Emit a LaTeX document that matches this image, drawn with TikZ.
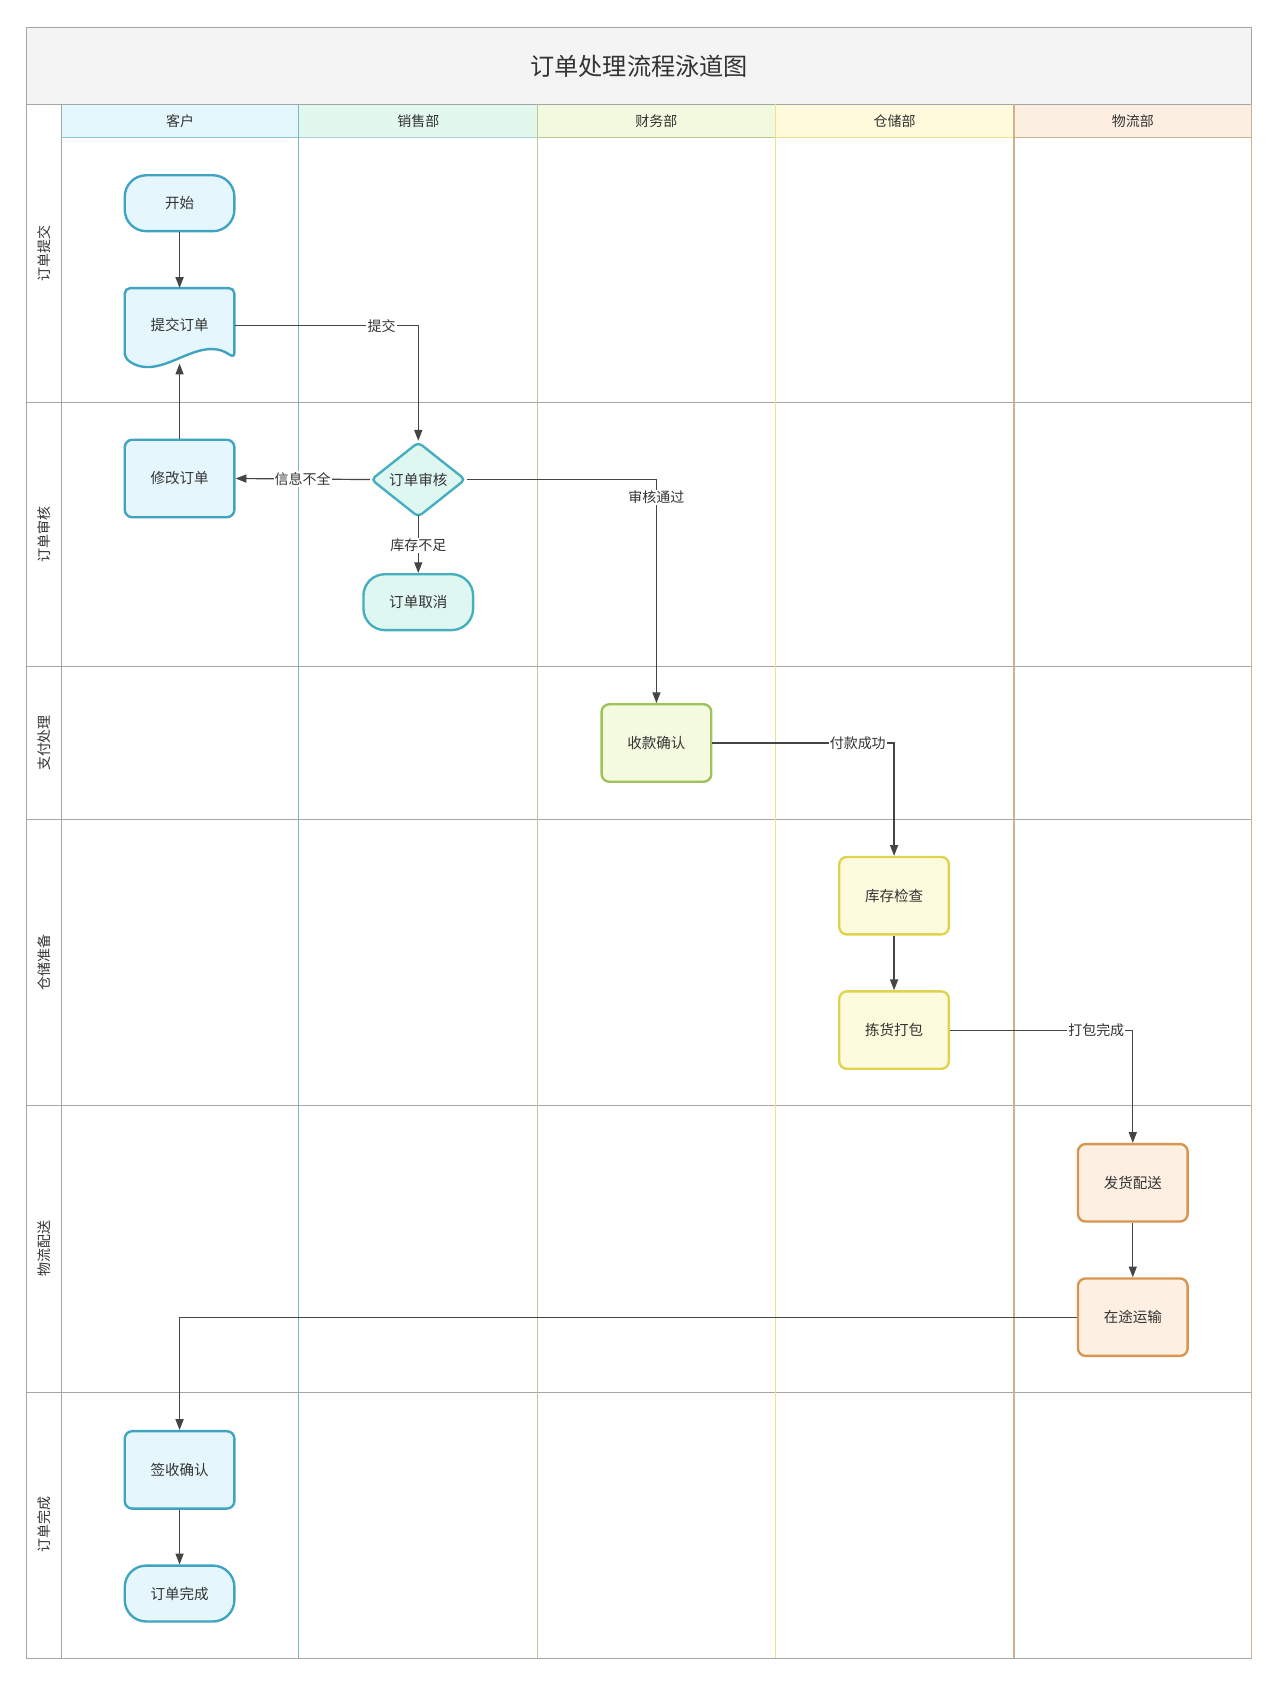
\documentclass[tikz,border=0pt]{standalone}
\usepackage{fontspec}
\setmainfont{Noto Sans CJK SC}
\usetikzlibrary{shapes.geometric,arrows.meta}
\definecolor{txt}{HTML}{333333}
\definecolor{gridc}{HTML}{A6A6A6}
\definecolor{titlebg}{HTML}{F4F4F4}
\definecolor{arrowc}{HTML}{454545}
\definecolor{hA}{HTML}{E4F7FC}
\definecolor{hB}{HTML}{E2F8EF}
\definecolor{hC}{HTML}{F1FADF}
\definecolor{hD}{HTML}{FEFADB}
\definecolor{hE}{HTML}{FDEEE2}
\definecolor{lA}{HTML}{8CC8DA}
\definecolor{lB}{HTML}{7DB6C8}
\definecolor{lC}{HTML}{BFC98E}
\definecolor{lD}{HTML}{EDE48A}
\definecolor{lE}{HTML}{CDB28F}
\definecolor{custF}{HTML}{E5F7FC}
\definecolor{custD}{HTML}{3FA3C1}
\definecolor{saleF}{HTML}{DFF7F1}
\definecolor{saleD}{HTML}{45AFC0}
\definecolor{finF}{HTML}{F3FADF}
\definecolor{finD}{HTML}{9DC35A}
\definecolor{whF}{HTML}{FDFBDD}
\definecolor{whD}{HTML}{DED44F}
\definecolor{logF}{HTML}{FDEFE2}
\definecolor{logD}{HTML}{D8954F}
\begin{document}
\begin{tikzpicture}[x=1pt,y=-1pt,
  basebox/.style={draw, line width=2.2pt, text=txt, font=\fontsize{13.5}{16}\selectfont,
    inner sep=0pt, minimum width=102pt, minimum height=72pt, rounded corners=7pt},
  stadium/.style={basebox, minimum height=52pt, rounded corners=20pt},
  cust/.style={draw=custD, fill=custF},
  sale/.style={draw=saleD, fill=saleF},
  fin/.style={draw=finD, fill=finF},
  wh/.style={draw=whD, fill=whF},
  logi/.style={draw=logD, fill=logF},
  conn/.style={draw=arrowc, line width=1.1pt, -{Triangle[width=7.5pt,length=10pt]}},
  lbl/.style={fill=white, inner sep=1pt, text=txt, font=\fontsize{13}{15}\selectfont},
  hdr/.style={text=txt, font=\fontsize{13}{15}\selectfont},
  lane/.style={text=txt, font=\fontsize{13}{15}\selectfont, rotate=90},
  gl/.style={draw=gridc, line width=1pt}
]
\useasboundingbox[fill=white] (0,0) rectangle (1190,1568);

% title band and header fills
\fill[titlebg] (25,26) rectangle (1164,97);
\fill[hA] (57,97) rectangle (278,128);
\fill[hB] (278,97) rectangle (500,128);
\fill[hC] (500,97) rectangle (721,128);
\fill[hD] (721,97) rectangle (943,128);
\fill[hE] (943,97) rectangle (1164,128);

% grid
\draw[gl] (25,26) rectangle (1164,1542);
\draw[gl] (25,97) -- (1164,97);
\draw[gl] (57,97) -- (57,1542);
\foreach \yy in {374,620,762,1028,1295} \draw[gl] (25,\yy) -- (1164,\yy);
\draw[lA, line width=1pt] (57,128) -- (278,128);
\draw[lB!60!hB, line width=1pt] (278,128) -- (500,128);
\draw[lC, line width=1pt] (500,128) -- (721,128);
\draw[lD, line width=1pt] (721,128) -- (943,128);
\draw[lE, line width=1pt] (943,128) -- (1164,128);
\draw[lB, line width=1pt] (278,97) -- (278,1542);
\draw[lC, line width=1pt] (500,97) -- (500,1542);
\draw[lD, line width=1pt] (721,97) -- (721,1542);
\draw[lE, line width=1pt] (943,97) -- (943,1542);
\draw[lE, line width=1pt] (1164,97) -- (1164,1542);

% title & headers
\node[text=txt, font=\fontsize{22.5}{26}\selectfont] (title) at (594.5,62) {订单处理流程泳道图};
\node[hdr] (hdrA) at (167.5,113) {客户};
\node[hdr] (hdrB) at (389,113) {销售部};
\node[hdr] (hdrC) at (610.5,113) {财务部};
\node[hdr] (hdrD) at (832,113) {仓储部};
\node[hdr] (hdrE) at (1053.5,113) {物流部};

% lane labels
\node[lane] (lane1) at (41,236) {订单提交};
\node[lane] (lane2) at (41,497) {订单审核};
\node[lane] (lane3) at (41,691) {支付处理};
\node[lane] (lane4) at (41,895) {仓储准备};
\node[lane] (lane5) at (41,1161) {物流配送};
\node[lane] (lane6) at (41,1418) {订单完成};

% nodes
\node[stadium, cust] (start) at (167,189) {开始};
\draw[custD, fill=custF, line width=2.2pt, rounded corners=5pt]
  (116,333) -- (116,268) -- (218,268) -- (218,333)
  .. controls (184,309) and (150,357) .. (116,333) -- cycle;
\node[inner sep=0pt, minimum width=102pt, minimum height=70pt, text=txt,
  font=\fontsize{13.5}{16}\selectfont] (submit) at (167,303) {\raisebox{2pt}{提交订单}};
\node[basebox, cust] (modify) at (167,445) {修改订单};
\node[diamond, draw=saleD, fill=saleF, line width=2.2pt, rounded corners=4pt, inner sep=0pt,
  minimum width=88pt, minimum height=70pt, aspect=1.26, text=txt,
  font=\fontsize{13.5}{16}\selectfont] (review) at (389,446) {订单审核};
\node[stadium, sale] (cancel) at (389,560) {订单取消};
\node[basebox, fin] (pay) at (610.5,691) {收款确认};
\node[basebox, wh] (check) at (831.5,833) {库存检查};
\node[basebox, wh] (pack) at (831.5,958) {拣货打包};
\node[basebox, logi] (ship) at (1053.5,1100) {发货配送};
\node[basebox, logi] (transit) at (1053.5,1225) {在途运输};
\node[basebox, cust] (sign) at (167,1367) {签收确认};
\node[stadium, cust] (done) at (167,1482) {订单完成};

% connectors
\draw[conn] (start) -- (submit.north);
\draw[conn] (submit.east) -| node[lbl, pos=0.40] {提交} (review.north);
\draw[conn] (modify.north) -- (submit.south);
\draw[conn] (review.west) -- node[lbl, pos=0.5] {信息不全} (modify.east);
\draw[conn] ([yshift=3pt]review.south) -- node[lbl, pos=0.52] {库存不足} (cancel.north);
\draw[conn] (review.east) -| node[lbl, pos=0.54] {审核通过} (pay.north);
\draw[conn] (pay.east) -| node[lbl, pos=0.40] {付款成功} (check.north);
\draw[conn] (check) -- (pack);
\draw[conn] (pack.east) -| node[lbl, pos=0.40] {打包完成} (ship.north);
\draw[conn] (ship) -- (transit);
\draw[conn] (transit.west) -| (sign.north);
\draw[conn] (sign) -- (done);
\end{tikzpicture}
\end{document}
